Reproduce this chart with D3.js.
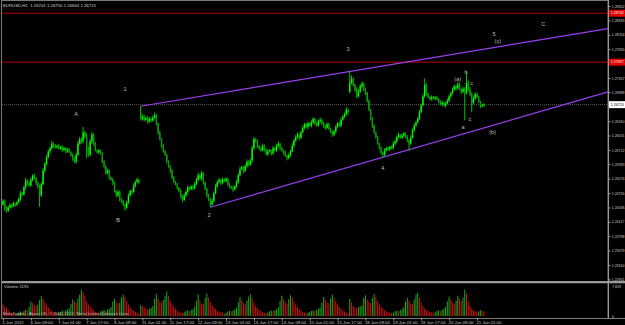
<!DOCTYPE html>
<html><head><meta charset="utf-8">
<script src="https://cdn.jsdelivr.net/npm/d3@7"></script>
<style>html,body{margin:0;padding:0;background:#000;overflow:hidden}svg{display:block}</style>
</head><body><svg id="c" width="625" height="325"></svg>
<script>
// ---------- DATA ----------
const symbolTitle = "EURUSD,H1  1.26701 1.26750 1.26664 1.26715";
const closes = [
1.2458,1.2441,1.2436,1.2444,1.2449,1.2446,1.2452,1.2450,1.2455,1.2462,
1.2475,1.2472,1.2488,1.2503,1.2497,1.2492,1.2505,1.2514,1.2509,1.2498,
1.2490,1.2470,1.2495,1.2525,1.2540,1.2555,1.2568,1.2575,1.2585,1.2580,
1.2577,1.2580,1.2574,1.2578,1.2571,1.2575,1.2568,1.2572,1.2566,1.2560,
1.2552,1.2545,1.2560,1.2585,1.2595,1.2590,1.2610,1.2600,1.2575,1.2560,
1.2590,1.2605,1.2585,1.2570,1.2566,1.2570,1.2563,1.2545,1.2535,1.2520,
1.2525,1.2510,1.2505,1.2498,1.2480,1.2470,1.2478,1.2462,1.2458,1.2450,
1.2443,1.2455,1.2470,1.2480,1.2478,1.2492,1.2500,1.2505,1.2498,1.2640,
1.2645,1.2638,1.2642,1.2634,1.2640,1.2636,1.2643,1.2648,1.2630,1.2610,
1.2595,1.2580,1.2568,1.2560,1.2545,1.2535,1.2525,1.2510,1.2500,1.2495,
1.2487,1.2480,1.2468,1.2460,1.2470,1.2478,1.2488,1.2484,1.2490,1.2486,
1.2495,1.2505,1.2515,1.2508,1.2520,1.2498,1.2485,1.2470,1.2462,1.2450,
1.2458,1.2475,1.2490,1.2500,1.2505,1.2498,1.2505,1.2502,1.2507,1.2495,
1.2490,1.2487,1.2483,1.2490,1.2500,1.2515,1.2528,1.2533,1.2525,1.2535,
1.2545,1.2538,1.2548,1.2575,1.2595,1.2590,1.2580,1.2575,1.2570,1.2580,
1.2572,1.2562,1.2568,1.2570,1.2563,1.2575,1.2570,1.2580,1.2585,1.2575,
1.2570,1.2565,1.2558,1.2553,1.2560,1.2568,1.2580,1.2592,1.2600,1.2605,
1.2598,1.2610,1.2620,1.2628,1.2622,1.2630,1.2625,1.2632,1.2640,1.2630,
1.2625,1.2635,1.2638,1.2630,1.2625,1.2620,1.2628,1.2618,1.2612,1.2605,
1.2612,1.2622,1.2630,1.2625,1.2638,1.2645,1.2650,1.2660,1.2655,1.2720,
1.2728,1.2715,1.2705,1.2690,1.2700,1.2712,1.2718,1.2705,1.2698,1.2680,
1.2660,1.2640,1.2625,1.2610,1.2600,1.2585,1.2575,1.2565,1.2560,1.2570,
1.2575,1.2572,1.2578,1.2575,1.2585,1.2590,1.2600,1.2605,1.2598,1.2603,
1.2608,1.2600,1.2592,1.2585,1.2598,1.2615,1.2625,1.2632,1.2640,1.2655,
1.2670,1.2690,1.2715,1.2695,1.2688,1.2684,1.2688,1.2685,1.2688,1.2684,
1.2678,1.2672,1.2676,1.2670,1.2674,1.2680,1.2690,1.2697,1.2705,1.2712,
1.2708,1.2716,1.2705,1.2700,1.2706,1.2698,1.2720,1.2705,1.2695,1.2675,
1.2685,1.2695,1.2688,1.2678,1.2668,1.26701,1.26715];
// wick extensions in pips above max(open,close) / below min(open,close)
const wickUp = [
4,3,5,2,4,3,5,2,3,4, 5,3,4,6,3,4,5,3,4,2, 3,4,5,6,4,5,3,4,6,3, 4,3,5,2,4,3,2,4,3,2,
3,4,5,6,5,4,12,4,9,3, 5,6,3,4,2,3,2,3,4,2, 5,3,2,4,3,2,4,3,2,3, 2,4,5,3,4,6,3,5,2,13,
5,4,3,5,4,3,5,6,3,2, 3,2,4,3,2,3,2,4,3,2, 3,2,4,3,5,3,4,2,3,4, 5,4,6,3,5,2,3,2,4,3,
5,4,6,3,4,2,5,3,4,2, 3,2,4,3,5,4,6,3,2,4, 5,3,4,6,5,3,4,2,3,5, 3,2,4,3,2,5,3,4,5,2,
3,2,4,3,5,4,6,3,4,5, 3,4,5,3,2,4,3,5,4,2, 3,4,5,2,3,2,4,3,2,3, 4,5,3,4,5,3,4,6,3,25,
8,4,3,5,6,4,5,3,4,2, 3,2,4,3,2,3,2,4,3,5, 3,4,2,3,5,4,3,5,2,4, 3,2,4,3,6,4,5,3,4,5,
4,6,15,4,3,2,4,3,2,3, 2,3,4,2,3,5,4,3,5,4, 3,6,4,3,5,4,23,5,6,4, 5,3,4,3,2,3,3.5];
const wickDn = [
3,5,4,2,3,4,2,5,3,2, 4,3,2,5,4,3,2,4,3,5, 4,25,3,2,4,3,2,5,3,4, 3,4,2,3,5,2,4,3,2,4,
5,3,4,2,3,5,4,3,22,4, 3,5,4,2,3,4,2,3,5,4, 3,4,2,5,3,4,3,5,4,3, 7,3,4,2,5,3,4,2,3,4,
3,4,2,5,3,4,2,3,4,5, 3,4,3,2,4,3,5,4,3,2, 4,3,5,4,2,3,4,3,2,4, 3,2,4,3,5,4,3,5,4,6,
3,4,2,3,4,5,3,2,4,3, 4,3,5,2,3,4,3,2,5,3, 4,3,2,5,4,3,5,4,3,2, 4,3,5,2,4,3,2,4,3,5,
3,4,2,5,3,4,2,3,4,3, 5,3,2,4,3,5,2,4,3,4, 3,2,4,3,5,4,2,3,4,5, 3,4,2,3,4,2,3,4,5,3,
4,3,5,4,3,2,4,3,5,4, 3,4,5,3,4,2,3,4,5,3, 2,3,4,2,3,5,4,3,2,3, 4,3,4,15,3,2,4,3,2,3,
3,2,4,3,2,3,4,2,3,4, 3,2,4,3,5,2,3,4,3,2, 4,3,2,5,3,61,4,3,5,20, 3,4,2,3,4,2,3.7];
// opens that differ from the previous close (first bar, weekend gaps)
const gapOpens = [[0,1.2450],[79,1.2655],[199,1.2700]];
const volumes = [
3200,2500,2100,1500,1000,800,700,
600,700,900,1200,1000,1300,1600,1500,2400,3800,3300,2800,2600,3000,4200,5200,4500,3600,2900,2200,1800,1300,1000,900,
800,900,1100,1400,1200,1500,1700,2000,3200,4300,3900,3500,4600,5500,6800,6200,5400,3800,3000,2600,2000,1500,1100,900,
900,1200,1400,1600,1300,1700,1900,2300,3800,4500,3700,3200,3400,4800,5600,5000,3900,3000,2200,1800,1400,1100,900,600,
2800,2600,2400,2000,1800,1900,2100,2600,4500,5800,4600,3700,3500,4200,5300,6400,5200,4000,3100,2500,1900,1500,1100,900,
800,1000,1300,1500,1200,1600,1800,2400,4000,5600,4200,3300,3100,4700,5900,4800,3600,2800,2300,1800,1400,1200,1000,800,
700,900,1100,1300,1200,1400,1700,2100,3600,4900,4100,3400,3000,4000,5100,5700,4600,3500,2700,2100,1600,1300,1000,800,
700,900,1200,1400,1300,1500,1800,2300,3900,5300,4400,3600,3200,4400,5400,4900,3800,3000,2300,1800,1400,1100,900,700,
800,1000,1300,1500,1300,1600,1900,2200,3500,5000,4300,3500,3300,4600,5600,4700,3800,3000,2400,1900,1500,1200,900,700,
4500,3500,2600,2200,2000,2300,2500,2800,4700,5400,4300,3600,3400,4700,5800,5000,3900,3100,2400,2000,1500,1200,1000,800,
700,900,1200,1400,1300,1500,1800,2300,3700,4800,4000,3300,3100,4300,5600,6100,4800,3600,2700,2000,1600,1300,1100,900,
800,1000,1300,1500,1300,1600,1900,2400,3800,5100,4300,3500,3200,4000,5300,4600,3900,4800,6900,5900,3800,2700,2000,1600,
1300,1100,1200,1500,1400,1195];
// price scale labels (the two hidden behind the price boxes are left out)
const priceTicks = [1.22841,1.23160,1.23479,1.23798,1.24117,1.24436,1.24755,1.25074,1.25393,1.25712,
  1.26031,1.26350,1.26988,1.27307,1.27945,1.28264,1.28583,1.28902];
const dateTickBars = [0,16,32,48,64,80,96,112,128,144,160,176,192,208,224,240,256,272];
const dateLabels = ["5 Jun 2012","6 Jun 09:00","7 Jun 01:00","7 Jun 17:00","8 Jun 09:00","11 Jun 01:00",
  "11 Jun 17:00","12 Jun 09:00","13 Jun 01:00","13 Jun 17:00","14 Jun 09:00","15 Jun 01:00","15 Jun 17:00",
  "18 Jun 09:00","19 Jun 01:00","19 Jun 17:00","20 Jun 09:00","21 Jun 01:00"];
const hLines = [1.28742, 1.27657];
const lastPrice = 1.26715;
const trendLines = [[79,1.2668,199,1.2745],[119,1.2444,218,1.2555]];
const waveLabels = [["A",41.9,1.26508],["B",66,1.24158],["1",70,1.27062],["2",118.2,1.24269],
  ["3",198,1.27949],["4",218,1.25310],["5",281.8,1.28281],["(c)",284,1.28126],["C",310,1.28503],
  ["(a)",261,1.27284],["b",265.7,1.27439],["c",269,1.27195],["c",268,1.26397],["a",264,1.26219],["(b)",281,1.26109]];
const volAxisTicks = [0, 7828];
const volumeTitle = "Volume 1195";
const copyright = "MetaTrader - Alpari UK, \u00a9 2001-2012, MetaQuotes Software Corp.";

// ---------- LAYOUT ----------
const plotL = 2, plotR = 608, plotT = 2, plotB = 281;
const font = "'Liberation Sans', Arial, sans-serif";
const fs = 4.3, fsAxis = 3.55;
const svg = d3.select("#c");
svg.append("rect").attr("width",625).attr("height",325).attr("fill","#000");

const x = d3.scaleLinear().domain([0, 276]).range([3, 3 + 276*1.7425]);
const y = d3.scaleLinear().domain([1.23160, 1.28902]).range([265, 6]);
const yv = d3.scaleLinear().domain([0, 7828]).range([316, 286]);

const opens = closes.map((c,i)=> i>0 ? closes[i-1] : c);
gapOpens.forEach(([i,o])=>opens[i]=o);
const bars = closes.map((c,i)=>{
  const o = opens[i];
  return {i, o, c, h: Math.max(o,c)+wickUp[i]*0.0001, l: Math.min(o,c)-wickDn[i]*0.0001, v: volumes[i]};
});

svg.append("clipPath").attr("id","clipMain").append("rect")
  .attr("x",plotL).attr("y",plotT).attr("width",plotR-plotL).attr("height",plotB-plotT);

// frame
svg.append("rect").attr("x",1.5).attr("y",0.5).attr("width",plotR-1.5).attr("height",318)
  .attr("fill","none").attr("stroke","#7a7a7a").attr("stroke-width",1);

const main = svg.append("g").attr("clip-path","url(#clipMain)");

// horizontal red lines
main.selectAll(".hl").data(hLines).join("line")
  .attr("x1",plotL).attr("x2",plotR).attr("y1",d=>y(d)).attr("y2",d=>y(d))
  .attr("stroke","#b00000").attr("stroke-width",1);

// last price dotted line
main.append("line").attr("x1",plotL).attr("x2",plotR).attr("y1",y(lastPrice)).attr("y2",y(lastPrice))
  .attr("stroke","#5a5a5a").attr("stroke-width",1).attr("stroke-dasharray","1,1");

// trend lines (rays to the right)
const iEnd = x.invert(plotR);
main.selectAll(".tl").data(trendLines).join("line")
  .attr("x1",d=>x(d[0])).attr("y1",d=>y(d[1]))
  .attr("x2",x(iEnd)).attr("y2",d=>y(d[1]+(d[3]-d[1])/(d[2]-d[0])*(iEnd-d[0])))
  .attr("stroke","#9a3ff0").attr("stroke-width",1.2);

// candles
const cg = main.append("g");
cg.selectAll(".w").data(bars).join("line")
  .attr("x1",d=>x(d.i)).attr("x2",d=>x(d.i)).attr("y1",d=>y(d.h)).attr("y2",d=>y(d.l))
  .attr("stroke","#00d800").attr("stroke-width",0.9);
cg.selectAll(".b").data(bars).join("rect")
  .attr("x",d=>x(d.i)-0.7).attr("width",1.4)
  .attr("y",d=>y(Math.max(d.o,d.c)))
  .attr("height",d=>Math.max(0.8, Math.abs(y(d.o)-y(d.c))))
  .attr("fill",d=>d.c>=d.o?"#00ff00":"#0c9a0c");

// wave labels
main.selectAll(".wl").data(waveLabels).join("text")
  .attr("x",d=>x(d[1])).attr("y",d=>y(d[2])).attr("dy","0.35em")
  .attr("text-anchor","middle").attr("font-family",font).attr("font-size",5.6)
  .attr("fill","#bdbdbd").text(d=>d[0]);

// title
svg.append("text").attr("x",3).attr("y",7).attr("font-family",font).attr("font-size",fs)
  .attr("fill","#d0d0d0").attr("xml:space","preserve").text(symbolTitle);

// separator between panels
svg.append("rect").attr("x",plotL).attr("y",281).attr("width",625-plotL).attr("height",2.3).attr("fill","#9a9a9a");

// price axis
const pAxis = svg.append("g").attr("transform",`translate(${plotR},0)`)
  .call(d3.axisRight(y).tickValues(priceTicks).tickFormat(d3.format(".5f")).tickSize(2.5).tickPadding(1.2));
pAxis.select(".domain").remove();
pAxis.selectAll("line").attr("stroke","#9a9a9a");
pAxis.selectAll("text").attr("font-family",font).attr("font-size",fsAxis).attr("fill","#c8c8c8");
svg.append("line").attr("x1",plotR+0.5).attr("x2",plotR+0.5).attr("y1",0).attr("y2",318).attr("stroke","#9a9a9a");

// price boxes
function priceBox(p, bg, fg){
  const g = svg.append("g").attr("transform",`translate(${plotR+1},${y(p)})`);
  g.append("rect").attr("x",0).attr("y",-3.5).attr("width",16).attr("height",7).attr("fill",bg);
  g.append("text").attr("x",1.8).attr("dy","0.35em").attr("font-family",font).attr("font-size",fsAxis)
    .attr("fill",fg).text(d3.format(".5f")(p));
}
hLines.forEach(p=>priceBox(p,"#e00000","#ffffff"));
priceBox(lastPrice,"#ffffff","#000000");

// volume panel
const vg = svg.append("g");
vg.selectAll(".v").data(bars).join("line")
  .attr("x1",d=>x(d.i)).attr("x2",d=>x(d.i)).attr("y1",yv(0)).attr("y2",d=>yv(d.v))
  .attr("stroke",(d,i)=> i>0 && d.v>volumes[i-1] ? "#1ea81e" : "#c81414").attr("stroke-width",1);
svg.append("text").attr("x",4).attr("y",288).attr("font-family",font).attr("font-size",fs)
  .attr("fill","#c8c8c8").text(volumeTitle);
const vAxis = svg.append("g").attr("transform",`translate(${plotR},0)`)
  .call(d3.axisRight(yv).tickValues(volAxisTicks).tickSize(0).tickPadding(4));
vAxis.select(".domain").remove();
vAxis.selectAll("text").attr("font-family",font).attr("font-size",fsAxis).attr("fill","#c8c8c8");

svg.append("text").attr("x",3).attr("y",315).attr("font-family",font).attr("font-size",fs)
  .attr("fill","#b8b8b8").text(copyright);

// date axis
svg.append("line").attr("x1",plotL).attr("x2",625).attr("y1",318.5).attr("y2",318.5).attr("stroke","#7a7a7a");
const dAxis = svg.append("g").attr("transform","translate(0,318)")
  .call(d3.axisBottom(x).tickValues(dateTickBars).tickFormat((d,i)=>dateLabels[i]).tickSize(2.5).tickPadding(0.5));
dAxis.select(".domain").remove();
dAxis.selectAll("line").attr("stroke","#9a9a9a");
dAxis.selectAll("text").attr("text-anchor","start").attr("dx",-1)
  .attr("font-family",font).attr("font-size",fs).attr("fill","#c8c8c8");
</script></body></html>
